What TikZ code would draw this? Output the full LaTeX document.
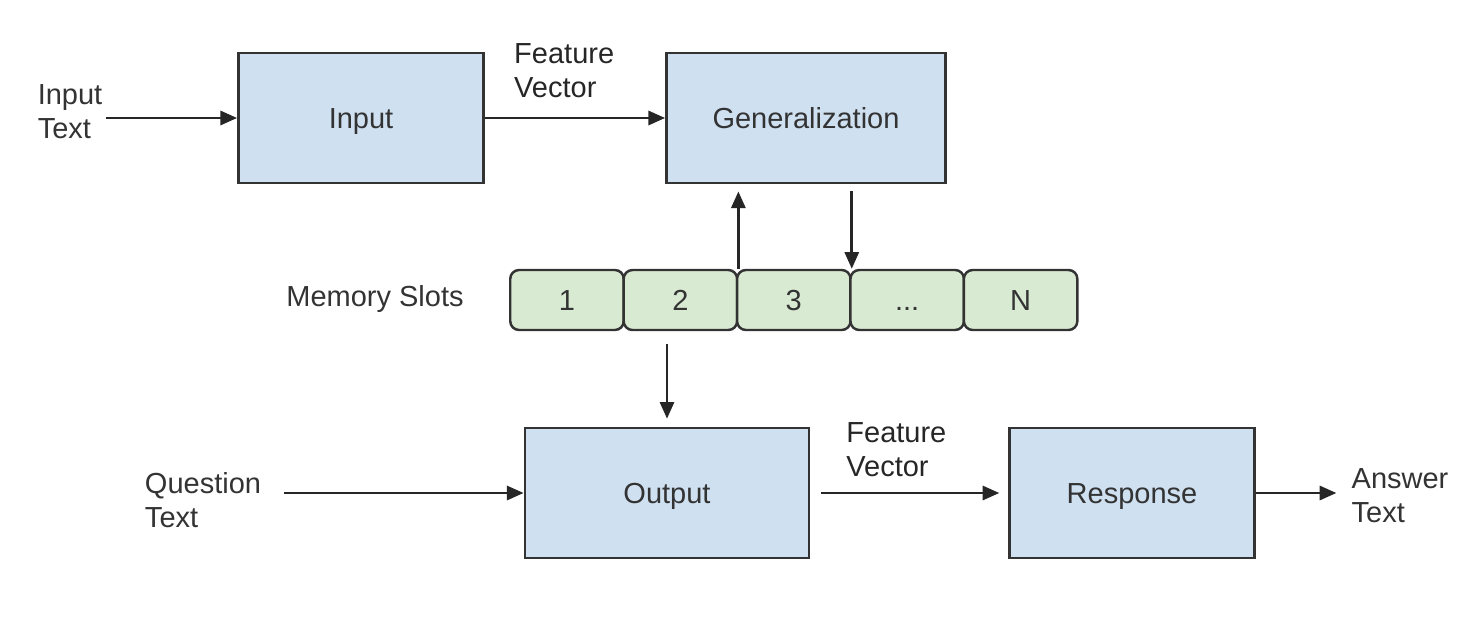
\documentclass[tikz,border=0pt]{standalone}
\usepackage{fontspec}
\setmainfont{Liberation Sans}
\usetikzlibrary{arrows.meta}
\definecolor{boxblue}{HTML}{CFE0F1}
\definecolor{slotgreen}{HTML}{D9EAD3}
\definecolor{edge}{HTML}{333333}
\newcommand\slotdots{.\kern0pt.\kern0pt.}
\tikzset{
	module/.style={draw=edge, fill=boxblue, line width=1.6pt, minimum width=4.9cm, minimum height=2.6cm, text height=11.8pt, text depth=0pt},
	slot/.style={draw=edge, fill=slotgreen, line width=1.4pt, rounded corners=5pt, minimum width=2.27cm, minimum height=1.2cm, text height=11.8pt, text depth=0pt},
	lbl/.style={align=left, inner sep=2pt},
	flow/.style={-{Triangle[length=9.5pt, width=8pt]}, line width=1.6pt, black!85}
}
\begin{document}
\begin{tikzpicture}[x=0.02cm, y=-0.02cm, font=\fontsize{16.5}{19.5}\selectfont, text=black!80]
	\useasboundingbox (0,0) rectangle (1470,616);
	% modules
	\node[module] (input) at (361,118) {Input};
	\node[module, minimum width=5.58cm] (gen) at (806,118) {Generalization};
	\node[module, minimum width=5.68cm] (out) at (667,493) {Output};
	\node[module] (resp) at (1132,493) {Response};
	% memory
	\foreach \i/\t in {1/1, 2/2, 3/3, 4/\slotdots, 5/N}
		\node[slot] (s\i) at (567+113.4*\i-113.4,300) {\t};
	\node[lbl] (mem) at (375,299) {Memory Slots};
	% outside texts
	\node[lbl] (intext) at (70,112) {Input\\Text};
	\node[lbl] (qtext) at (203,500) {Question\\Text};
	\node[lbl] (atext) at (1400,496) {Answer\\Text};
	% arrows
	\draw[flow] (intext.east |- input.west) -- (input.west);
	\draw[flow] (input.east) -- node[lbl, pos=0.44, above=8.5pt] {Feature\\Vector} (gen.west);
	\draw[flow, shorten >=4pt] (s2.north east) -- (s2.north east |- gen.south);
	\draw[flow, shorten <=4pt] (s3.north east |- gen.south) -- (s3.north east);
	\draw[flow, shorten <=7.4pt, shorten >=4.5pt] (s2.south -| out.north) -- (out.north);
	\draw[flow, shorten <=11pt] (qtext.east |- out.west) -- (out.west);
	\draw[flow, shorten <=6pt, shorten >=5pt] (out.east) -- node[lbl, pos=0.435, above=6.5pt] {Feature\\Vector} (resp.west);
	\draw[flow, shorten >=6.5pt] (resp.east) -- (resp.east -| atext.west);
\end{tikzpicture}
\end{document}
